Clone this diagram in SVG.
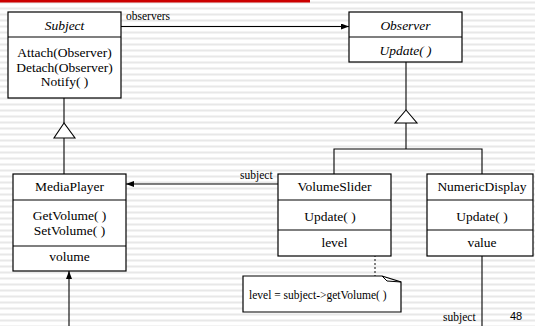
<svg xmlns="http://www.w3.org/2000/svg" width="535" height="326" viewBox="0 0 535 326">
<defs>
<pattern id="stripes" x="0" y="0" width="8" height="6" patternUnits="userSpaceOnUse">
<rect x="0" y="0" width="8" height="6" fill="#ffffff"/>
<rect x="0" y="1.5" width="8" height="2" fill="#e8e8e8"/>
</pattern>
<marker id="arr" viewBox="0 0 8 6" refX="8" refY="3" markerWidth="8" markerHeight="6" markerUnits="userSpaceOnUse" orient="auto">
<path d="M0,0 L8,3 L0,6 Z" fill="#000"/>
</marker>
<style>
.box{fill:#ffffff;stroke:#000;stroke-width:1.2}
.ln{stroke:#000;stroke-width:1.1;fill:none}
.t{font-size:13.5px;fill:#000;text-anchor:middle}
.i{font-style:italic}
.lbl{font-size:11.5px;fill:#000}
.tri{fill:#ffffff;stroke:#000;stroke-width:1.1}
</style>
</defs>
<rect x="0" y="0" width="535" height="326" fill="url(#stripes)"/>
<rect x="0" y="0" width="310" height="2.5" fill="#cc0000"/>

<g font-family="'Liberation Serif', 'Times New Roman', 'DejaVu Serif', serif">
<g id="connectors">
<line class="ln" x1="121" y1="26.5" x2="349" y2="26.5" marker-end="url(#arr)"/>
<text class="lbl" x="126" y="20">observers</text>
<line class="ln" x1="64" y1="98" x2="64" y2="123"/>
<polygon class="tri" points="64,123 54,138 75,138"/>
<line class="ln" x1="64" y1="138" x2="64" y2="174"/>
<line class="ln" x1="406" y1="62" x2="406" y2="110"/>
<polygon class="tri" points="406,110 395,123 417,123"/>
<line class="ln" x1="406" y1="123" x2="406" y2="149"/>
<polyline class="ln" points="334,174 334,149 482,149 482,174"/>
<line class="ln" x1="278" y1="184" x2="126" y2="184" marker-end="url(#arr)"/>
<text class="lbl" x="240" y="179">subject</text>
<line class="ln" x1="69" y1="326" x2="69" y2="271" marker-end="url(#arr)"/>
<line class="ln" x1="482" y1="256" x2="482" y2="326"/>
<text class="lbl" x="443" y="321">subject</text>
<line x1="375" y1="215" x2="375" y2="276" stroke="#333" stroke-width="1.2" stroke-dasharray="2,2"/>
<circle cx="375" cy="212.5" r="2.2" fill="#ffffff" stroke="#000" stroke-width="1.1"/>
</g>

<g id="subject">
<rect class="box" x="8" y="12" width="113" height="86"/>
<line class="ln" x1="8" y1="37" x2="121" y2="37"/>
<text class="t i" x="64.5" y="30">Subject</text>
<text class="t" x="64.5" y="57">Attach(Observer)</text>
<text class="t" x="64.5" y="71.5">Detach(Observer)</text>
<text class="t" x="64.5" y="86">Notify( )</text>
</g>

<g id="observer">
<rect class="box" x="349" y="12" width="113" height="50"/>
<line class="ln" x1="349" y1="37" x2="462" y2="37"/>
<text class="t i" x="405.5" y="29.5">Observer</text>
<text class="t i" x="405.5" y="54.5">Update( )</text>
</g>

<g id="mediaplayer">
<rect class="box" x="13" y="174" width="113" height="97"/>
<line class="ln" x1="13" y1="200" x2="126" y2="200"/>
<line class="ln" x1="13" y1="246" x2="126" y2="246"/>
<text class="t" x="69.5" y="191">MediaPlayer</text>
<text class="t" x="69.5" y="220">GetVolume( )</text>
<text class="t" x="69.5" y="235">SetVolume( )</text>
<text class="t" x="69.5" y="261">volume</text>
</g>

<g id="volumeslider">
<rect class="box" x="278" y="174" width="113" height="82"/>
<line class="ln" x1="278" y1="200" x2="391" y2="200"/>
<line class="ln" x1="278" y1="230" x2="391" y2="230"/>
<text class="t" x="334.5" y="191">VolumeSlider</text>
<text class="t" x="330" y="221">Update( )</text>
<text class="t" x="334.5" y="247">level</text>
</g>

<g id="numericdisplay">
<rect class="box" x="427" y="174" width="106" height="82"/>
<line class="ln" x1="427" y1="200" x2="533" y2="200"/>
<line class="ln" x1="427" y1="230" x2="533" y2="230"/>
<text class="t" x="482" y="191">NumericDisplay</text>
<text class="t" x="482" y="221">Update( )</text>
<text class="t" x="482" y="247">value</text>
</g>

<g id="note">
<path d="M243,276 L382,276 L401,282 L401,312 L243,312 Z" fill="#ffffff" stroke="#000" stroke-width="1.2"/>
<path d="M382,276 L387,281 L401,282" fill="none" stroke="#000" stroke-width="1"/>
<text class="lbl" x="249" y="299">level = subject-&gt;getVolume( )</text>
</g>
</g>

<text x="516" y="320" font-family="'Liberation Sans', Arial, sans-serif" font-size="11" text-anchor="middle" fill="#000">48</text>
</svg>
